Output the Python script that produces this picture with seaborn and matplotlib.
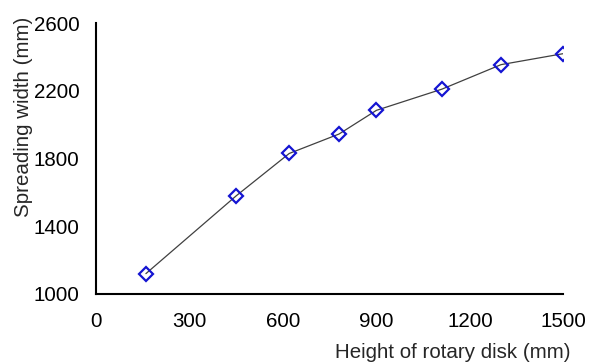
import seaborn as sns
import matplotlib.pyplot as plt
import pandas as pd

# ----- data -----
disk_height = [160, 450, 620, 780, 900, 1110, 1300, 1500]
spread_width = [1120, 1580, 1830, 1945, 2085, 2210, 2355, 2420]
x_ticks = [0, 300, 600, 900, 1200, 1500]
y_ticks = [1000, 1400, 1800, 2200, 2600]

df = pd.DataFrame({"height": disk_height, "width": spread_width})

# ----- figure configuration -----
sns.set_style("white")
plt.rcParams["font.family"] = ["Liberation Sans", "DejaVu Sans"]
fs = 14.8

fig = plt.figure(figsize=(5.93, 3.62), dpi=100)
ax = fig.add_axes([0.162, 0.188, 0.788, 0.748])

sns.lineplot(data=df, x="height", y="width", ax=ax,
             color="#404040", linewidth=0.9,
             marker="D", markersize=7.5, markerfacecolor="none",
             markeredgecolor="#1414d2", markeredgewidth=1.6)

ax.set_xlim(0, 1500)
ax.set_ylim(1000, 2600)
ax.set_xticks(x_ticks)
ax.set_yticks(y_ticks)
ax.tick_params(direction="in", length=4, width=1.3, colors="black",
               labelsize=fs)
ax.tick_params(axis="y", pad=12)
ax.tick_params(axis="x", pad=13)

for side in ["top", "right"]:
    ax.spines[side].set_visible(False)
for side in ["left", "bottom"]:
    ax.spines[side].set_color("black")
    ax.spines[side].set_linewidth(1.5)

ax.set_xlabel("Height of rotary disk (mm)", fontsize=fs, ha="right")
ax.xaxis.set_label_coords(1.015, -0.18)
ax.set_ylabel("Spreading width (mm)", fontsize=fs)
ax.yaxis.set_label_coords(-0.135, 0.655)

fig.savefig("out.png", dpi=100)
